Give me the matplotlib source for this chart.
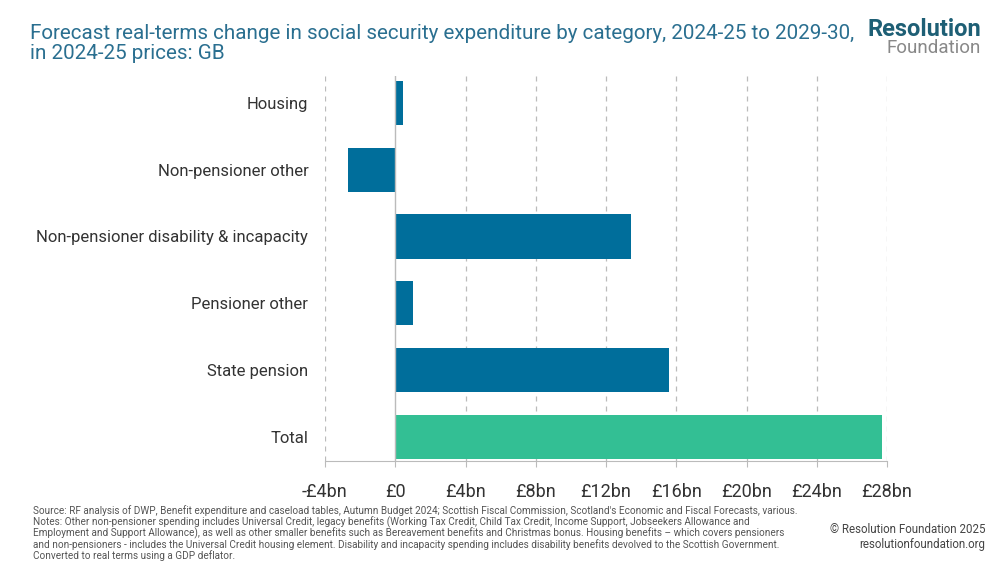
import matplotlib.pyplot as plt

# categories listed top to bottom
categories = ["Housing", "Non-pensioner other", "Non-pensioner disability & incapacity",
              "Pensioner other", "State pension", "Total"]
change_bn = [0.45, -2.7, 13.4, 1.0, 15.6, 27.7]
tick_vals = [-4, 0, 4, 8, 12, 16, 20, 24, 28]
tick_labels = ["-£4bn", "£0", "£4bn", "£8bn", "£12bn", "£16bn", "£20bn", "£24bn", "£28bn"]

blue = "#006e9b"
green = "#33bf94"
title_col = "#2a6f90"

plt.rcParams['font.family'] = ['Roboto', 'DejaVu Sans']

fig = plt.figure(figsize=(10, 5.63), dpi=100)
ax = fig.add_axes([0.325, 0.181, 0.562, 0.684])

n = len(categories)
ypos = list(range(n - 1, -1, -1))
colors = [blue] * (n - 1) + [green]
ax.barh(ypos, change_bn, height=0.66, color=colors, zorder=3)

ax.set_xlim(-4, 28)
ax.set_ylim(-0.36, n - 0.6)
ax.set_yticks(ypos)
ax.set_yticklabels(categories, fontsize=12, color="#333333")
ax.set_xticks(tick_vals)
ax.set_xticklabels(tick_labels, fontsize=13, color="#333333")
ax.tick_params(axis='y', length=0, pad=12)
ax.tick_params(axis='x', length=4, color="#bbbbbb", pad=12)

for v in tick_vals:
    if v == 0:
        ax.axvline(v, color="#bbbbbb", lw=1, zorder=4)
    else:
        ax.axvline(v, color="#bbbbbb", lw=0.9, ls=(0, (4, 4)), zorder=1)

for s in ['top', 'right', 'left']:
    ax.spines[s].set_visible(False)
ax.spines['bottom'].set_color("#bbbbbb")

fig.text(0.03, 0.958, "Forecast real-terms change in social security expenditure by category, 2024-25 to 2029-30,\nin 2024-25 prices: GB",
         fontsize=14.9, color=title_col, va='top', ha='left', linespacing=1.12)

fig.text(0.981, 0.928, "Resolution", fontsize=17, fontweight='bold', color="#1e5f75", ha='right', va='bottom')
fig.text(0.981, 0.898, "Foundation", fontsize=13.5, color="#888888", ha='right', va='bottom')

footer = ("Source: RF analysis of DWP, Benefit expenditure and caseload tables, Autumn Budget 2024; Scottish Fiscal Commission, Scotland's Economic and Fiscal Forecasts, various.\n"
          "Notes: Other non-pensioner spending includes Universal Credit, legacy benefits (Working Tax Credit, Child Tax Credit, Income Support, Jobseekers Allowance and\n"
          "Employment and Support Allowance), as well as other smaller benefits such as Bereavement benefits and Christmas bonus. Housing benefits \u2013 which covers pensioners\n"
          "and non-pensioners - includes the Universal Credit housing element. Disability and incapacity spending includes disability benefits devolved to the Scottish Government.\n"
          "Converted to real terms using a GDP deflator.")
fig.text(0.033, 0.103, footer, fontsize=7.2, color="#555555", va='top', ha='left', linespacing=1.02)
fig.text(0.985, 0.022, "\u00a9 Resolution Foundation 2025\nresolutionfoundation.org", fontsize=8.3,
         color="#444444", ha='right', va='bottom', multialignment='right', linespacing=1.15)

fig.savefig("out.png", dpi=100)
